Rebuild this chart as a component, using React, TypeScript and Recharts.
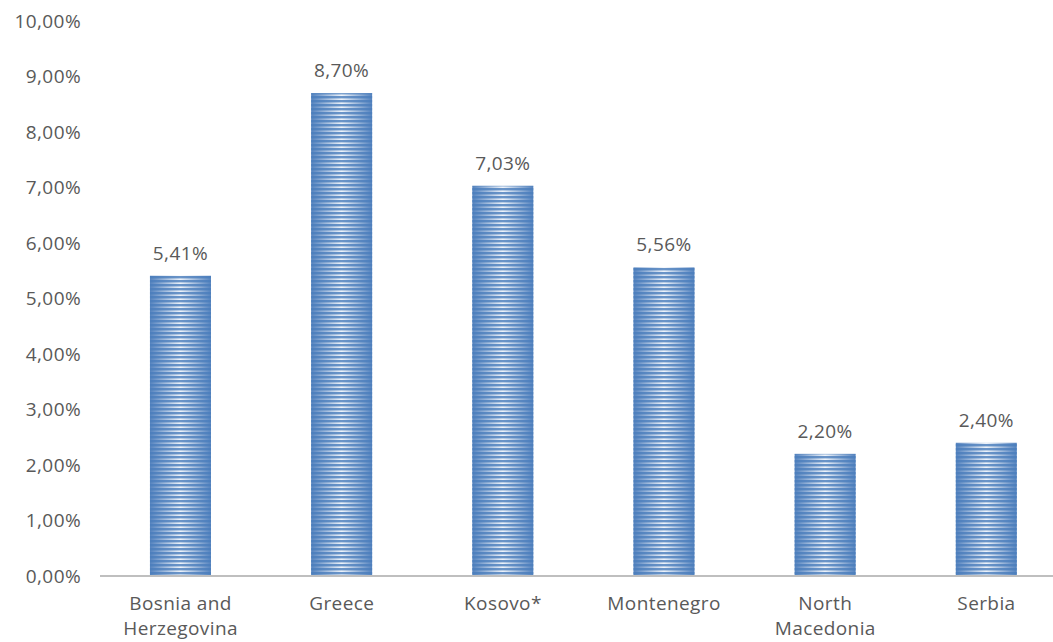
import React from 'react';
import { BarChart, Bar, XAxis, YAxis, LabelList } from 'recharts';

const categories = ['Bosnia and Herzegovina', 'Greece', 'Kosovo*', 'Montenegro', 'North Macedonia', 'Serbia'];
const values = [5.41, 8.7, 7.03, 5.56, 2.2, 2.4];
const yTicks = [0, 1, 2, 3, 4, 5, 6, 7, 8, 9, 10];

const data = categories.map((c, i) => ({ name: c, value: values[i] }));

const fmt = (v: number) => v.toFixed(2).replace('.', ',') + '%';
const FONT = '"Open Sans", sans-serif';
const TEXT = '#595959';
const FS = 19;
const LS = 0.4;

const StripedBar = (props: any) => {
  const { x, y, width, height } = props;
  if (!height || height <= 0) return null;
  return (
    <g>
      <rect x={x} y={y} width={width} height={height} fill="url(#barGrad)" />
      <rect x={x} y={y} width={width} height={height} fill="url(#stripes)" />
    </g>
  );
};

const XTick = (props: any) => {
  const { x, y, payload } = props;
  const name: string = payload.value;
  let lines = [name];
  if (name.length > 12) {
    const idx = name.lastIndexOf(' ');
    lines = [name.slice(0, idx), name.slice(idx + 1)];
  }
  return (
    <g transform={`translate(${x},${y})`}>
      {lines.map((l, i) => (
        <text key={i} x={0} y={i * 25} dy={26} textAnchor="middle" fill={TEXT} fontSize={FS} letterSpacing={LS} fontFamily={FONT}>
          {l}
        </text>
      ))}
    </g>
  );
};

export default function App() {
  return (
    <div style={{ position: 'fixed', left: 0, top: 0, width: 1053, height: 642, background: '#fff' }}>
      <BarChart
        width={1053}
        height={642}
        data={data}
        margin={{ top: 21, right: -14, bottom: 0, left: 2 }}
        barCategoryGap="31%"
      >
        <defs>
          <linearGradient id="barGrad" x1="0" y1="0" x2="1" y2="0">
            <stop offset="0%" stopColor="#5583bf" />
            <stop offset="50%" stopColor="#eef3fa" />
            <stop offset="100%" stopColor="#5583bf" />
          </linearGradient>
          <pattern id="stripes" patternUnits="userSpaceOnUse" width="8" height="4">
            <rect x="0" y="0" width="8" height="2" fill="#4a7dbb" fillOpacity="0.8" />
            <rect x="0" y="2" width="8" height="1" fill="#4a7dbb" fillOpacity="0.3" />
          </pattern>
        </defs>
        <XAxis
          dataKey="name"
          height={66}
          axisLine={{ stroke: '#bfbfbf', strokeWidth: 2 }}
          tickLine={false}
          tick={<XTick />}
          interval={0}
        />
        <YAxis
          domain={[0, 10]}
          ticks={yTicks}
          tickFormatter={fmt}
          axisLine={false}
          tickLine={false}
          width={98}
          tickMargin={13}
          tick={{ fill: TEXT, fontSize: FS, fontFamily: FONT, letterSpacing: LS }}
        />
        <Bar dataKey="value" shape={<StripedBar />} isAnimationActive={false}>
          <LabelList
            dataKey="value"
            position="top"
            offset={16}
            formatter={(v: any) => fmt(Number(v))}
            style={{ fill: TEXT, fontSize: FS, fontFamily: FONT, letterSpacing: LS }}
          />
        </Bar>
      </BarChart>
    </div>
  );
}
